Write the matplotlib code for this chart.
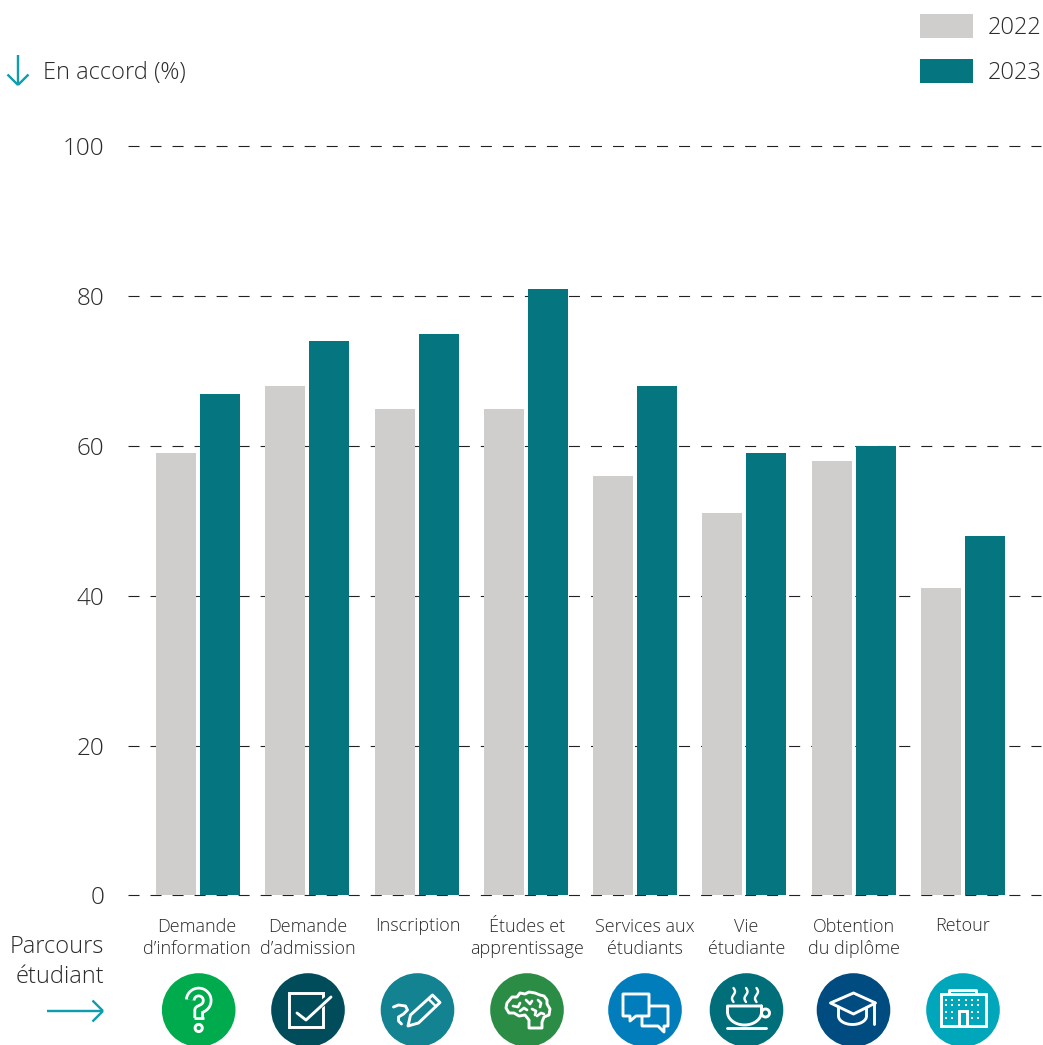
import numpy as np
import matplotlib
matplotlib.use("Agg")
import matplotlib.pyplot as plt
from matplotlib.patches import Circle, Rectangle, Polygon

plt.rcParams["font.family"] = ["Open Sans", "DejaVu Sans"]

# donnees
categories = ["Demande\nd’information", "Demande\nd’admission", "Inscription",
              "Études et\napprentissage", "Services aux\nétudiants", "Vie\nétudiante",
              "Obtention\ndu diplôme", "Retour"]
values_2022 = [59, 68, 65, 65, 56, 51, 58, 41]
values_2023 = [67, 74, 75, 81, 68, 59, 60, 48]
y_ticks = [0, 20, 40, 60, 80, 100]
years = ["2022", "2023"]

# couleurs
GREY = "#CFCECC"
TEAL = "#057680"
ARROW = "#0F9DAE"
TEXT = "#2B2B2B"
ICON_COLORS = ["#00AB4E", "#004C5A", "#138291", "#2B8C45",
               "#007DBA", "#006F7A", "#004B80", "#00A6BA"]
ICON_X = [198.7, 308, 417.5, 527, 645, 746.5, 853.5, 963]
ICON_Y = 1010
W, H = 1043, 1045

fig = plt.figure(figsize=(W / 100, H / 100), dpi=100, facecolor="white")

# axe principal, cale sur les pixels de l'image
left, right, top, bottom = 128, 1041, 146.4, 895.4
ax = fig.add_axes([left / W, 1 - bottom / H, (right - left) / W, (bottom - top) / H])
x = np.arange(len(categories))
step = 109.3
ax.set_xlim((left - 197.9) / step, (right - 197.9) / step)
ax.set_ylim(0, 100)
ax.bar(x - 22 / step, values_2022, width=40 / step, color=GREY, zorder=3)
ax.bar(x + 22 / step, values_2023, width=40 / step, color=TEAL, zorder=3)
ax.set_yticks(y_ticks)
ax.set_xticks([])
ax.tick_params(axis="y", length=0, pad=17, labelsize=17.5, labelcolor=TEXT)
for label in ax.get_yticklabels():
    label.set_fontweight("light")
ax.grid(axis="y", color="#222222", linewidth=0.8, linestyle=(0, (11 / 1.11, 11 / 1.11)), zorder=1)
ax.set_axisbelow(True)
for side in ax.spines:
    ax.spines[side].set_visible(False)
for gl in ax.get_ygridlines():
    gl.set_clip_on(False)

# calque en pixels pour le texte libre et les icones
ov = fig.add_axes([0, 0, 1, 1], zorder=5)
ov.set_xlim(0, W)
ov.set_ylim(H, 0)
ov.axis("off")
ov.patch.set_alpha(0)

LW = 2.1  # contour des icones, en points


def stroke(xs, ys, color="white", lw=2.9, cap="round"):
    # lw donne en pixels
    ov.plot(xs, ys, color=color, lw=lw * 0.72, solid_capstyle=cap,
            solid_joinstyle="round", clip_on=False)


def outline(pts, cx, cy, fc="none", **kw):
    ov.add_patch(Polygon([(cx + a, cy + b) for a, b in pts], closed=True, fc=fc, ec="white",
                         lw=LW, joinstyle="round", **kw))


def arrow_line(x0, y0, x1, y1, head=11):
    stroke([x0, x1], [y0, y1], color=ARROW, lw=2.4, cap="butt")
    a = np.arctan2(y1 - y0, x1 - x0)
    for s in (-1, 1):
        b = a + np.pi + s * np.pi / 4
        stroke([x1, x1 + head * 1.35 * np.cos(b)], [y1, y1 + head * 1.35 * np.sin(b)],
               color=ARROW, lw=2.4, cap="butt")


def icon_question(cx, cy, bg):
    t = np.linspace(np.pi * 1.02, np.pi * 2.35, 30)
    xs = list(cx + 8.5 * np.cos(t)) + [cx, cx]
    ys = list(cy - 9.5 + 8.5 * np.sin(t)) + [cy + 0, cy + 8]
    ov.plot(xs, ys, color="white", lw=7.6, solid_capstyle="butt", solid_joinstyle="round")
    ov.plot(xs, ys, color=bg, lw=3.6, solid_capstyle="butt", solid_joinstyle="round")
    stroke([cx - 5.2, cx + 5.2], [cy + 8, cy + 8], lw=2.8, cap="butt")
    ov.add_patch(Circle((cx, cy + 18), 3.6, fc=bg, ec="white", lw=LW))


def icon_check(cx, cy, bg):
    ov.add_patch(Rectangle((cx - 19, cy - 17), 34, 34, fc="none", ec="white", lw=LW))
    stroke([cx + 8, cx + 23], [cy - 2, cy - 13], color=bg, lw=7)
    stroke([cx - 11, cx - 2, cx + 23], [cy + 3, cy + 10, cy - 13])


def icon_pen(cx, cy, bg):
    outline([(-9.5, 16), (-7, 5), (15, -15), (22.5, -7.5), (1, 13)], cx, cy)
    stroke([cx + 11, cx + 18.5], [cy - 11, cy - 3.5], lw=2.4)
    sx = np.array([-24, -19, -12, -10, -14, -19, -19, -16])
    sy = np.array([-3, -5, -4, 0, 4, 7, 11, 14])
    stroke(cx + sx, cy + sy)


def icon_brain(cx, cy, bg):
    pts = [(2, 18), (2, 10), (-2, 5), (-8, 6), (-13, 3), (-18, 3), (-21, -2), (-20, -7), (-15, -13),
           (-10, -13), (-7, -17), (-2, -16), (2, -18), (8, -17), (13, -15), (17, -14), (20, -10),
           (20, -6), (23, -1), (22, 5), (17, 7), (15, 12), (15, 18)]
    outline(pts, cx, cy)
    for xs, ys in [([-14, -9, -7], [-4, -3, -7]), ([-1, 3, 5], [-10, -6, -9]),
                   ([-7, -3, 0], [1, -2, 0]), ([5, 9, 8], [-1, 1, 5]),
                   ([11, 14, 13], [-10, -7, -3]), ([10, 14, 17], [6, 3, 4])]:
        stroke(cx + np.array(xs), cy + np.array(ys), lw=2.7)


def icon_chat(cx, cy, bg):
    outline([(-3, -4), (23, -4), (23, 16), (19, 16), (19, 22), (13, 16), (-3, 16), (-3, 4)], cx, cy)
    outline([(-22, -16), (4, -16), (4, 6), (-9, 6), (-15, 11), (-15, 6), (-22, 6)], cx, cy, fc=bg, zorder=4)


def icon_cup(cx, cy, bg):
    t = np.linspace(0, 2 * np.pi, 20)
    for dx in (-13, -0.5, 10):
        stroke(cx + dx + 1.5 * np.sin(t), np.linspace(cy - 22, cy - 8, 20), lw=2.4)
    t = np.linspace(0, np.pi, 30)
    xs = [cx + 15] + list(cx - 2 + 17 * np.cos(t)) + [cx - 19, cx + 15]
    ys = [cy - 4] + list(cy + 2 + 13 * np.sin(t)) + [cy - 4, cy - 4]
    stroke(xs, ys)
    ov.add_patch(Circle((cx + 19, cy + 3), 4, fc="none", ec="white", lw=LW))
    stroke([cx - 19.7, cx + 19.7], [cy + 18, cy + 18])


def icon_cap(cx, cy, bg):
    outline([(-23, -7), (0, -17), (22, -7), (0, 4)], cx, cy)
    t = np.linspace(0, np.pi, 30)
    xs = [cx - 15, cx - 15] + list(cx - 1 - 14 * np.cos(t)) + [cx + 13, cx + 13]
    ys = [cy - 3, cy + 6] + list(cy + 6 + 8.5 * np.sin(t)) + [cy + 6, cy - 2]
    stroke(xs, ys)
    stroke([cx + 20, cx + 20], [cy - 8, cy + 14])


def icon_building(cx, cy, bg):
    ov.add_patch(Rectangle((cx - 22, cy - 16), 45, 32, fc=bg, ec="white", lw=LW))
    stroke([cx - 14, cx - 14, cx + 13, cx + 13], [cy - 16, cy - 20, cy - 20, cy - 16])
    for row, cols in [(-10, (-17, -11, -4, 3, 9, 15)), (-5, (-17, -11, -4, 3, 9, 15)),
                      (2, (-17, -11, 9, 15)), (8, (-17, -11, 9, 15))]:
        for col in cols:
            ov.add_patch(Rectangle((cx + col - 1.4, cy + row - 1.4), 2.8, 2.8, fc="white", ec="none"))
    ov.add_patch(Rectangle((cx - 4, cy + 1), 8, 15, fc=bg, ec="white", lw=LW))


icons = [icon_question, icon_check, icon_pen, icon_brain, icon_chat, icon_cup, icon_cap, icon_building]

for cat, cx, col, draw in zip(categories, ICON_X, ICON_COLORS, icons):
    ov.text(cx - (1.5 if cx < 200 else 0), 938 if "\n" in cat else 926, cat, ha="center",
            va="center", fontsize=13, fontweight="light", color=TEXT, linespacing=1.22)
    ov.add_patch(Circle((cx, ICON_Y), 36.8, fc=col, ec="none", clip_on=False))
    draw(cx, ICON_Y, col)

# legende
for year, col, ly in zip(years, [GREY, TEAL], [26, 71]):
    ov.add_patch(Rectangle((920, ly - 12), 53, 24, fc=col, ec="none"))
    ov.text(988, ly + 2, year, ha="left", va="center", fontsize=17, fontweight="light", color=TEXT)

# titres et fleches
ov.text(43, 73, "En accord (%)", ha="left", va="center", fontsize=17, fontweight="light", color=TEXT)
arrow_line(18, 55, 18, 85)
ov.text(104, 962, "Parcours\nétudiant", ha="right", va="center", fontsize=17, fontweight="light",
        color=TEXT, multialignment="right", linespacing=1.3)
arrow_line(47, 1011, 103, 1011)

fig.savefig("out.png", dpi=100, facecolor="white")
plt.close(fig)
